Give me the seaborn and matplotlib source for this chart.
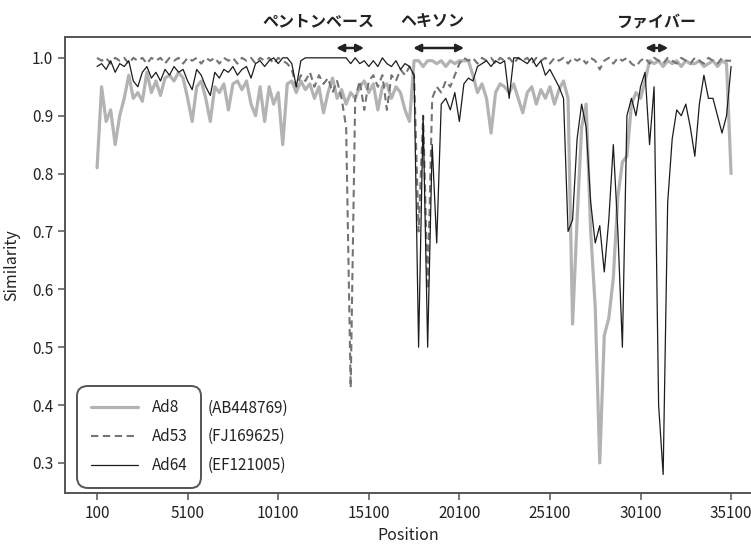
import matplotlib
matplotlib.use("Agg")
import matplotlib.pyplot as plt
import pandas as pd
import seaborn as sns

# window centre positions (250 bp step)
positions = list(range(100, 35101, 250))

ad8 = [
    0.81, 0.95, 0.89, 0.91, 0.85, 0.90, 0.93, 0.97, 0.93, 0.94,
    0.925, 0.975, 0.94, 0.96, 0.935, 0.965, 0.97, 0.96, 0.975, 0.965,
    0.93, 0.89, 0.95, 0.96, 0.93, 0.89, 0.95, 0.94, 0.955, 0.91,
    0.955, 0.96, 0.945, 0.96, 0.92, 0.90, 0.95, 0.89, 0.95, 0.92,
    0.94, 0.85, 0.955, 0.96, 0.94, 0.96, 0.945, 0.955, 0.93, 0.95,
    0.905, 0.94, 0.965, 0.93, 0.945, 0.92, 0.94, 0.93, 0.95, 0.96,
    0.94, 0.955, 0.91, 0.95, 0.955, 0.93, 0.95, 0.94, 0.91, 0.89,
    0.995, 0.995, 0.985, 0.995, 0.995, 0.99, 0.995, 0.985, 0.995, 0.99,
    0.995, 0.995, 0.995, 0.97, 0.94, 0.955, 0.93, 0.87, 0.94, 0.955,
    0.95, 0.94, 0.955, 0.93, 0.905, 0.94, 0.95, 0.92, 0.945, 0.93,
    0.95, 0.92, 0.945, 0.96, 0.93, 0.54, 0.72, 0.88, 0.92, 0.70,
    0.57, 0.30, 0.52, 0.55, 0.62, 0.76, 0.82, 0.83, 0.92, 0.94,
    0.93, 0.96, 0.995, 0.99, 0.995, 0.985, 0.995, 0.99, 0.995, 0.985,
    0.995, 0.99, 0.99, 0.995, 0.985, 0.99, 0.995, 0.985, 0.995, 0.99, 0.80,
]

ad53 = [
    1.0, 0.995, 1.0, 0.99, 1.0, 0.995, 1.0, 0.99, 1.0, 0.995,
    1.0, 0.99, 1.0, 0.995, 1.0, 0.99, 1.0, 0.995, 1.0, 0.99,
    1.0, 0.995, 1.0, 0.99, 1.0, 0.995, 1.0, 0.99, 1.0, 0.995,
    1.0, 0.99, 1.0, 0.995, 1.0, 0.99, 1.0, 0.995, 1.0, 0.99,
    1.0, 0.995, 0.99, 0.98, 0.95, 0.97, 0.96, 0.975, 0.95, 0.97,
    0.955, 0.965, 0.94, 0.96, 0.93, 0.88, 0.43, 0.93, 0.96, 0.91,
    0.96, 0.97, 0.95, 0.97, 0.91, 0.97, 0.96, 0.98, 0.97, 0.985,
    0.97, 0.70, 0.90, 0.60, 0.93, 0.95, 0.94, 0.96, 0.95, 0.97,
    0.99, 1.0, 0.995, 1.0, 0.99, 1.0, 0.995, 1.0, 0.99, 1.0,
    0.995, 1.0, 0.99, 1.0, 0.995, 1.0, 0.99, 1.0, 0.995, 1.0,
    0.99, 1.0, 0.995, 1.0, 0.99, 1.0, 0.995, 1.0, 0.99, 1.0,
    0.995, 0.98, 0.995, 1.0, 0.99, 1.0, 0.995, 1.0, 0.99, 0.985,
    0.995, 1.0, 0.99, 1.0, 0.995, 0.99, 1.0, 0.995, 0.99, 1.0,
    0.995, 0.99, 1.0, 0.995, 0.99, 1.0, 0.995, 0.99, 1.0, 0.995, 0.995,
]

ad64 = [
    0.985, 0.99, 0.98, 0.995, 0.975, 0.99, 0.985, 0.995, 0.96, 0.95,
    0.975, 0.985, 0.965, 0.975, 0.96, 0.98, 0.97, 0.985, 0.975, 0.98,
    0.96, 0.945, 0.98, 0.97, 0.95, 0.935, 0.975, 0.965, 0.98, 0.975,
    0.985, 0.97, 0.98, 0.985, 0.965, 0.99, 0.995, 0.985, 0.995, 1.0,
    0.99, 1.0, 1.0, 0.99, 0.95, 0.995, 1.0, 1.0, 1.0, 1.0,
    1.0, 1.0, 1.0, 1.0, 1.0, 1.0, 0.99, 1.0, 0.99, 0.995,
    0.985, 0.995, 0.985, 1.0, 0.99, 0.985, 0.995, 0.98, 0.99, 0.985,
    0.97, 0.50, 0.90, 0.50, 0.85, 0.68, 0.92, 0.93, 0.91, 0.94,
    0.89, 0.955, 0.965, 0.96, 0.985, 0.99, 0.995, 0.985, 0.995, 0.99,
    0.995, 0.93, 1.0, 1.0, 0.995, 0.99, 1.0, 0.985, 0.995, 0.97,
    0.98, 0.965, 0.95, 0.93, 0.70, 0.72, 0.86, 0.92, 0.88, 0.75,
    0.68, 0.71, 0.63, 0.72, 0.85, 0.70, 0.50, 0.90, 0.93, 0.90,
    0.95, 0.975, 0.85, 0.95, 0.40, 0.28, 0.75, 0.86, 0.91, 0.90,
    0.92, 0.88, 0.83, 0.92, 0.97, 0.93, 0.93, 0.90, 0.87, 0.90, 0.985,
]

series_names = ["Ad8", "Ad53", "Ad64"]
accessions = ["(AB448769)", "(FJ169625)", "(EF121005)"]
xticks = [100, 5100, 10100, 15100, 20100, 25100, 30100, 35100]
yticks = [0.3, 0.4, 0.5, 0.6, 0.7, 0.8, 0.9, 1.0]
region_labels = ["ペントンベース", "ヘキソン", "ファイバー"]
region_starts = [13300, 17550, 30360]
region_ends = [14840, 20360, 31630]
region_label_x = [12300, 18600, 31000]

sns.set_theme(style="ticks")
plt.rcParams["font.family"] = ["Noto Sans CJK JP", "DejaVu Sans"]

W, H = 751, 545
fig = plt.figure(figsize=(W / 100, H / 100), dpi=100)
ax = fig.add_axes([65 / W, 52 / H, 686 / W, 456 / H])

styles = {
    "Ad8": dict(color="#b3b3b3", lw=2.3, ls="-"),
    "Ad53": dict(color="#747474", lw=1.5, ls=(0, (3.5, 2.2))),
    "Ad64": dict(color="#1c1c1c", lw=0.9, ls="-"),
}
data = {"Ad8": ad8, "Ad53": ad53, "Ad64": ad64}
for name in series_names:
    df = pd.DataFrame({"Position": positions, "Similarity": data[name]})
    st = styles[name]
    sns.lineplot(data=df, x="Position", y="Similarity", ax=ax, color=st["color"],
                 linewidth=st["lw"], linestyle=st["ls"], label=name, estimator=None)

ax.set_xlim(-1670, 36200)
ax.set_ylim(0.248, 1.036)
ax.set_xticks(xticks)
ax.set_xticklabels([str(t) for t in xticks])
ax.set_yticks(yticks)
ax.set_yticklabels([f"{t:.1f}" for t in yticks])
ax.tick_params(axis="both", labelsize=11, length=5, width=1.1, color="#555555",
               labelcolor="#222222")
ax.set_xlabel("Position", fontsize=11.5, color="#222222", labelpad=4)
ax.set_ylabel("Similarity", fontsize=11.5, color="#222222", labelpad=8)
for side in ["left", "bottom", "top"]:
    ax.spines[side].set_color("#555555")
    ax.spines[side].set_linewidth(1.4)
ax.spines["right"].set_visible(False)

# region arrows and labels
for lab, x0, x1, xc in zip(region_labels, region_starts, region_ends, region_label_x):
    ax.annotate("", xy=(x1, 1.017), xytext=(x0, 1.017),
                arrowprops=dict(arrowstyle="<|-|>", color="#222222", lw=1.8,
                                mutation_scale=11, shrinkA=0, shrinkB=0),
                annotation_clip=False)
    ax.text(xc, 1.063, lab, ha="center", va="center", fontsize=11.5,
            fontweight="bold", color="#222222", clip_on=False)

handles, labels = ax.get_legend_handles_labels()
leg = ax.legend(handles, labels, loc="lower left", bbox_to_anchor=(0.0175, 0.011),
                frameon=True, fancybox=True, fontsize=11, handlelength=3.1,
                handletextpad=0.9, labelspacing=0.78, borderpad=0.9,
                borderaxespad=0)
frame = leg.get_frame()
frame.set_edgecolor("#555555")
frame.set_linewidth(1.4)
frame.set_alpha(1)
frame.set_boxstyle("round", pad=0, rounding_size=0.7)
for t in leg.get_texts():
    t.set_color("#222222")

fig.canvas.draw()
for t, acc in zip(leg.get_texts(), accessions):
    bb = t.get_window_extent()
    yc = (bb.y0 + bb.y1) / 2
    fig.text(208 / W, yc / H, acc, ha="left", va="center", fontsize=11,
             color="#222222")

fig.savefig("out.png", dpi=100)
